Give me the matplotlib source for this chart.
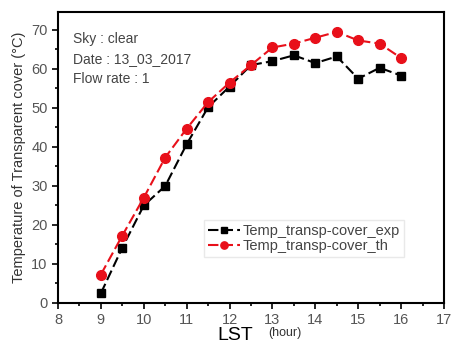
import numpy as np
import matplotlib
matplotlib.use('Agg')
import matplotlib.pyplot as plt

plt.rcParams['font.family'] = ['Liberation Sans', 'DejaVu Sans']

hours = [9, 9.5, 10, 10.5, 11, 11.5, 12, 12.5, 13, 13.5, 14, 14.5, 15, 15.5, 16]
temp_exp = [2.5, 14.2, 25, 30, 40.7, 50.2, 55.5, 61, 62, 63.5, 61.5, 63.2, 57.5, 60.3, 58.3]
temp_th = [7.3, 17.3, 27, 37.3, 44.7, 51.5, 56.5, 61, 65.5, 66.5, 68, 69.5, 67.3, 66.5, 62.8]

fig = plt.figure(figsize=(4.54, 3.56), dpi=100)
ax = fig.add_axes([58/454, 53/356, 386/454, 291/356])

ax.plot(hours, temp_exp, color='black', ls=(0, (5, 2)), lw=1.5, marker='s', ms=6,
        label='Temp_transp-cover_exp')
ax.plot(hours, temp_th, color='#e8101a', ls=(0, (5, 2)), lw=1.5, marker='o', ms=7,
        label='Temp_transp-cover_th')

ax.set_xlim(8, 17)
ax.set_ylim(0, 74.6)
ax.set_xticks(range(8, 18))
ax.set_xticks(np.arange(8.5, 17, 1), minor=True)
ax.set_yticks(range(0, 80, 10))
ax.set_yticks(range(5, 75, 10), minor=True)
ax.tick_params(which='both', direction='out', top=False, right=False,
               labelsize=10.5, labelcolor='#555555', width=1.2)
ax.tick_params(which='major', length=4)
ax.tick_params(which='minor', length=2.5)
for s in ax.spines.values():
    s.set_linewidth(1.5)

ax.set_ylabel('Temperature of Transparent cover (°C)', fontsize=10.5, color='#333333', labelpad=4)
fig.text(235/454, 1 - 336/356, 'LST', fontsize=14, ha='center', va='center')
fig.text(285/454, 1 - 333/356, '(hour)', fontsize=9, ha='center', va='center', color='#333333')

ax.text(0.04, 0.93, 'Sky : clear\nDate : 13_03_2017\nFlow rate : 1', transform=ax.transAxes,
        fontsize=10, color='#444444', va='top', linespacing=1.55)

leg = ax.legend(loc='upper left', bbox_to_anchor=(0.36, 0.31), fontsize=10.5, frameon=True,
                fancybox=False, edgecolor='#e4e4e4', handlelength=2.2, handletextpad=0.2,
                borderpad=0.25, labelspacing=0.1, markerscale=0.75)
for t in leg.get_texts():
    t.set_color('#444444')

fig.savefig('out.png', dpi=100)
